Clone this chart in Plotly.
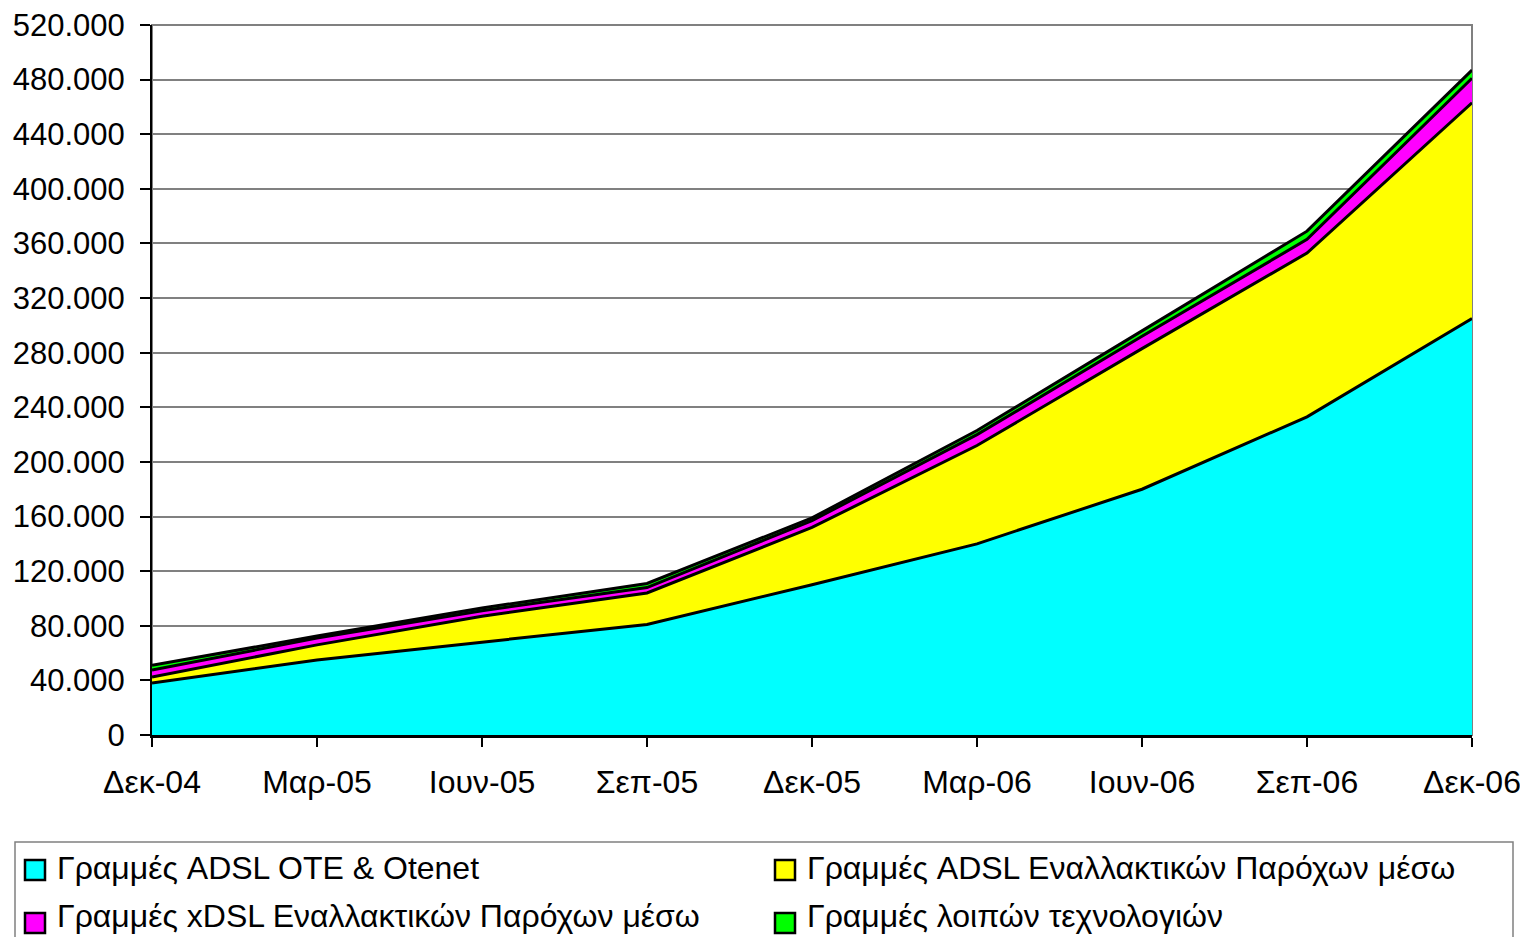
import plotly.graph_objects as go

categories = ["Δεκ-04", "Μαρ-05", "Ιουν-05", "Σεπ-05", "Δεκ-05", "Μαρ-06", "Ιουν-06", "Σεπ-06", "Δεκ-06"]
ote = [38000, 55000, 68000, 81000, 110000, 140000, 180000, 233000, 305000]
adsl_alt = [4500, 11000, 19000, 23000, 42000, 72000, 103000, 120000, 158000]
xdsl_alt = [5000, 5000, 4000, 4000, 5000, 8000, 9000, 10000, 18000]
other = [3500, 1500, 2000, 3000, 2000, 3000, 4000, 6000, 6000]

names = ["Γραμμές ADSL OTE & Otenet",
         "Γραμμές ADSL Εναλλακτικών Παρόχων μέσω",
         "Γραμμές xDSL Εναλλακτικών Παρόχων μέσω",
         "Γραμμές λοιπών τεχνολογιών"]
colors = ["#00FFFF", "#FFFF00", "#FF00FF", "#00FF00"]
series = [ote, adsl_alt, xdsl_alt, other]

FONT = "Liberation Sans, Arial, sans-serif"
OFF = 8  # page body margin
W, H = 1528 - OFF, 937 - OFF
# plot area in page pixels: x 152..1472, y 25..735
L, T = 152 - OFF, 25 - OFF
R = W - (1472 - OFF)
B = H - (735 - OFF)
PW, PH = W - L - R, H - T - B

def px(x):
    return (x - OFF - L) / PW

def py(y):
    return (H - B - (y - OFF)) / PH

fig = go.Figure()
for nm, col, vals in zip(names, colors, series):
    fig.add_trace(go.Scatter(
        x=categories, y=vals, name=nm, mode="lines", stackgroup="one",
        line=dict(color="black", width=3), fillcolor=col, showlegend=False,
    ))

# plot frame
fig.add_shape(type="rect", xref="paper", yref="paper", x0=0, y0=0, x1=1, y1=1,
              line=dict(color="#808080", width=2), layer="below")

# manual legend
fig.add_shape(type="rect", xref="paper", yref="paper",
              x0=px(15), x1=px(1513), y0=py(842), y1=py(960),
              line=dict(color="#808080", width=1.5), fillcolor="white", layer="below")
legend_pos = [(25, 860, 868), (775, 860, 868), (25, 913, 916), (775, 913, 916)]
for i, (lx, ly, ty) in enumerate(legend_pos):
    fig.add_shape(type="rect", xref="paper", yref="paper",
                  x0=px(lx), x1=px(lx + 20), y0=py(ly), y1=py(ly + 20),
                  line=dict(color="black", width=2.5), fillcolor=colors[i])
    fig.add_annotation(xref="paper", yref="paper", x=px(lx + 30), y=py(ty),
                       xanchor="left", yanchor="middle", showarrow=False,
                       text=names[i], font=dict(family=FONT, size=32, color="black"))

fig.update_layout(
    width=W, height=H,
    margin=dict(l=L, r=R, t=T, b=B),
    paper_bgcolor="white", plot_bgcolor="white",
    separators=",.",
    font=dict(family=FONT, size=31, color="black"),
    showlegend=False,
)
fig.update_xaxes(
    type="category", range=[0, 8], showgrid=False, automargin=False,
    showline=True, linecolor="black", linewidth=3,
    ticks="outside", ticklen=9, tickwidth=2, tickcolor="black",
    ticklabelstandoff=8, ticklabeloverflow="allow",
    tickfont=dict(family=FONT, size=32),
)
fig.update_yaxes(
    range=[0, 520000], dtick=40000, tickformat=",d", automargin=False,
    showgrid=True, gridcolor="#808080", gridwidth=1.5,
    showline=True, linecolor="black", linewidth=2,
    ticks="outside", ticklen=10, tickwidth=2, tickcolor="black",
    ticklabelstandoff=9, ticklabeloverflow="allow",
    tickfont=dict(family=FONT, size=31),
    zeroline=False,
)

fig.write_html("out.html")
